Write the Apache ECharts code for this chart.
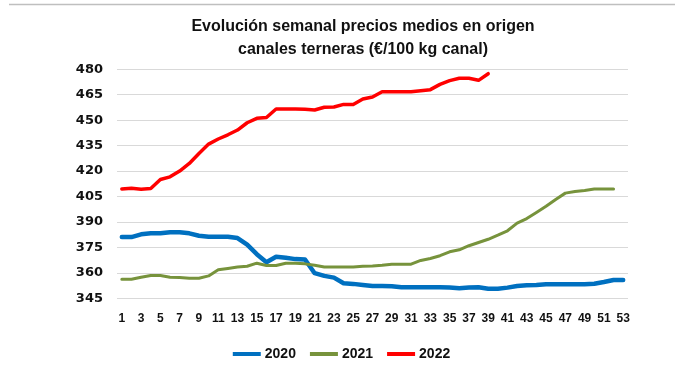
<!DOCTYPE html>
<html>
<head>
<meta charset="utf-8">
<script src="https://cdn.jsdelivr.net/npm/echarts@6/dist/echarts.min.js"></script>
<style>
  html, body { margin: 0; padding: 0; background: #ffffff; }
  #chart { width: 683px; height: 370px; }
</style>
</head>
<body>
<div id="chart"></div>
<script>
// Weekly average origin prices, veal carcasses (€/100 kg carcass)
const weeks = Array.from({ length: 53 }, (_, i) => String(i + 1));

const prices2020 = [
  381.1, 381.1, 382.7, 383.3, 383.3, 383.9, 383.9, 383.3, 381.9, 381.3,
  381.3, 381.3, 380.5, 376.6, 371.0, 366.3, 369.5, 368.9, 368.1, 367.9,
  359.8, 358.2, 357.2, 353.9, 353.5, 352.9, 352.3, 352.3, 352.1, 351.5,
  351.5, 351.5, 351.5, 351.5, 351.3, 350.9, 351.3, 351.5, 350.6, 350.6,
  351.3, 352.3, 352.7, 352.9, 353.3, 353.3, 353.3, 353.3, 353.3, 353.6,
  354.6, 355.8, 355.8
];

const prices2021 = [
  356.2, 356.2, 357.4, 358.4, 358.4, 357.4, 357.2, 356.8, 356.8, 358.2,
  361.8, 362.6, 363.4, 363.9, 365.7, 364.3, 364.3, 365.7, 365.7, 365.3,
  364.5, 363.5, 363.5, 363.5, 363.5, 363.9, 364.1, 364.5, 365.1, 365.1,
  365.1, 367.3, 368.5, 370.1, 372.4, 373.6, 376.0, 377.9, 379.8, 382.2,
  384.8, 389.3, 392.0, 395.6, 399.3, 403.3, 407.0, 408.0, 408.6, 409.4,
  409.4, 409.4
];

const prices2022 = [
  409.5, 409.9, 409.3, 409.7, 415.0, 416.6, 420.0, 424.5, 430.4, 435.9,
  438.9, 441.4, 444.2, 448.5, 451.1, 451.6, 456.6, 456.6, 456.6, 456.4,
  456.0, 457.6, 457.8, 459.3, 459.3, 462.5, 463.7, 466.8, 466.8, 466.8,
  466.8, 467.4, 468.0, 471.1, 473.3, 474.7, 474.7, 473.5, 477.4
];

const seriesNames = ['2020', '2021', '2022'];
const seriesColors = ['#0070C0', '#77933C', '#FF0000'];
const seriesWidths = [4.5, 3, 3.5];
const yMin = 345, yMax = 480, yStep = 15;

const chart = echarts.init(document.getElementById('chart'), null, { renderer: 'canvas' });

const lineSeries = [prices2020, prices2021, prices2022].map((values, i) => ({
  name: seriesNames[i],
  type: 'line',
  data: values,
  showSymbol: false,
  symbol: 'none',
  smooth: false,
  color: seriesColors[i],
  lineStyle: { color: seriesColors[i], width: seriesWidths[i], cap: 'round', join: 'round' },
  emphasis: { disabled: true },
  z: 3 + (i === 2 ? 1 : 0)
}));

chart.setOption({
  animation: false,
  backgroundColor: '#ffffff',
  title: {
    text: 'Evolución semanal precios medios en origen\ncanales terneras (€/100 kg canal)',
    left: 358,
    textAlign: 'center',
    top: 10,
    textStyle: {
      fontFamily: 'Liberation Sans',
      fontWeight: 'bold',
      fontSize: 16,
      lineHeight: 23,
      color: '#111111'
    }
  },
  graphic: [{
    type: 'line',
    shape: { x1: 9, y1: 4.5, x2: 675, y2: 4.5 },
    style: { stroke: '#bfbfbf', lineWidth: 1.5 },
    silent: true
  }],
  legend: {
    data: seriesNames.map((n, i) => ({ name: n, icon: 'rect', itemStyle: { color: seriesColors[i] } })),
    left: 'center',
    top: 342,
    itemWidth: 28,
    itemHeight: 4,
    itemGap: 14,
    textStyle: {
      fontFamily: 'Liberation Sans',
      fontWeight: 'bold',
      fontSize: 14,
      color: '#111111',
      padding: [0, 0, 0, -1]
    }
  },
  grid: { left: 117, right: 55, top: 69.3, bottom: 71.7, containLabel: false },
  xAxis: {
    type: 'category',
    data: weeks,
    boundaryGap: true,
    axisLine: { show: false },
    axisTick: { show: false },
    axisLabel: {
      interval: 1,
      margin: 14,
      fontFamily: 'Liberation Sans',
      fontWeight: 'bold',
      fontSize: 12,
      color: '#111111'
    },
    splitLine: { show: false }
  },
  yAxis: {
    type: 'value',
    min: yMin,
    max: yMax,
    interval: yStep,
    axisLine: { show: false },
    axisTick: { show: false },
    axisLabel: {
      margin: 14,
      fontFamily: 'DejaVu Sans',
      fontWeight: 'bold',
      fontSize: 13,
      color: '#111111'
    },
    splitLine: { show: true, lineStyle: { color: '#d9d9d9', width: 1 } }
  },
  series: lineSeries
});
</script>
</body>
</html>
